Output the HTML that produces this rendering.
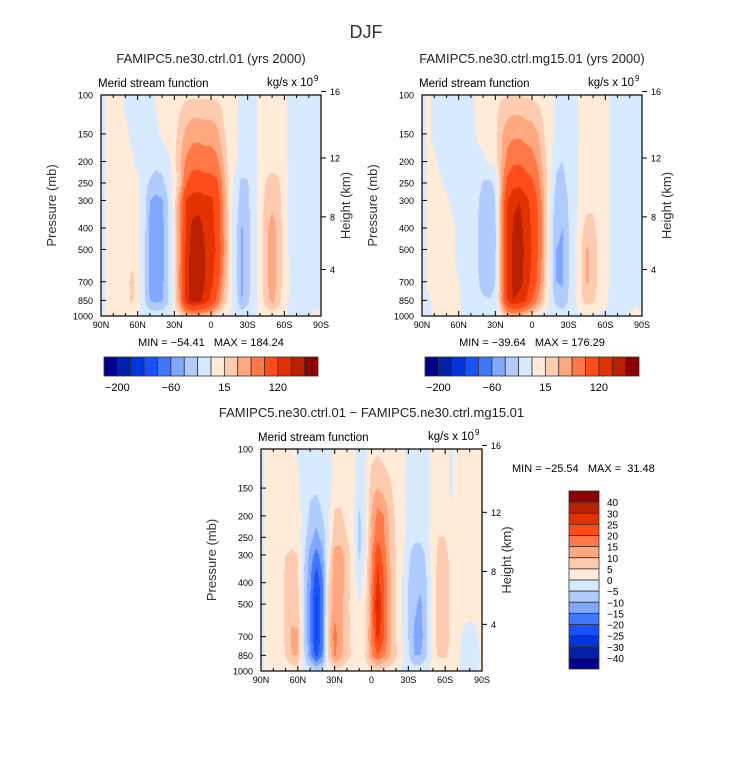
<!DOCTYPE html>
<html><head><meta charset="utf-8">
<style>
html,body{margin:0;padding:0;background:#fff;}
#wrap{position:relative;width:733px;height:764px;overflow:hidden;font-family:"Liberation Sans",sans-serif;}
canvas{position:absolute;}
svg{position:absolute;left:0;top:0;}
svg text{white-space:pre;}
</style></head>
<body>
<div id="wrap">
<canvas id="cA"></canvas>
<canvas id="cB"></canvas>
<canvas id="cC"></canvas>
<svg id="svg" width="733" height="764" xmlns="http://www.w3.org/2000/svg"></svg>
</div>
<script>
// ---------- data ----------
const lats = [90,85,80,75,70,65,60,55,50,45,40,35,30,25,20,15,10,5,0,-5,-10,-15,-20,-25,-30,-35,-40,-45,-50,-55,-60,-65,-70,-75,-80,-85,-90];
const pressures = [100,150,200,250,300,400,500,700,850,1000];
const levelsTop = [-200,-150,-100,-80,-60,-40,-20,0,15,30,50,80,120,150,180];
const levelsDiff = [-40,-30,-25,-20,-15,-10,-5,0,5,10,15,20,25,30,40];
const palette = ["#00008b","#0020a8","#0035dd","#1a50ff","#4077ff","#80a8ff","#b0ccff","#d8eaff","#ffebd8","#ffcbb0","#ffa880","#ff7845","#ff4d1a","#e33200","#b82000","#8b0000"];
const topBarLabels = ["-200","-60","15","120"];
const topBarLabelIdx = [1,5,9,13];
const diffBarLabels = ["40","30","25","20","15","10","5","0","-5","-10","-15","-20","-25","-30","-40"];
const xTickLabels = ["90N","60N","30N","0","30S","60S","90S"];
const xTickLats = [90,60,30,0,-30,-60,-90];
const pTicks = [100,150,200,250,300,400,500,700,850,1000];
const hTicks = [4,8,12,16];

const fieldA = [
[-8,5,5,5,-3,-5,-6,-6,-5,2,6,8,9,10,12,12,12,12,12,12,10,8,4,-5,-6,-5,4,6,6,5,3,-5,-6,-6,-6,-5,-8],
[-8,5,5,5,3,-3,-5,-6,-6,-4,4,8,10,22,35,42,42,40,40,35,18,6,3,-5,-6,-5,4,6,6,5,3,-5,-6,-6,-6,-5,-8],
[-8,5,5,5,4,2,-3,-8,-12,-15,-12,-5,12,30,55,65,68,62,62,55,30,8,3,-6,-7,-5,4,8,10,8,4,-4,-6,-6,-6,-5,-8],
[-8,5,5,5,5,3,2,-10,-22,-28,-25,-12,6,25,80,100,100,95,95,85,40,10,-8,-25,-22,-5,5,16,20,18,8,-4,-6,-6,-6,-5,-8],
[-8,5,5,5,5,4,2,-10,-40,-46,-42,-18,8,50,125,135,138,132,128,105,45,10,-10,-28,-24,-6,5,20,25,20,8,-4,-6,-6,-6,-5,-8],
[-8,5,5,5,5,6,4,-10,-45,-52,-48,-20,8,55,130,158,162,145,130,110,50,10,-10,-42,-30,-6,5,25,38,25,8,-4,-6,-6,-6,-5,-8],
[-8,5,5,5,5,8,5,-12,-46,-53,-48,-20,8,55,135,165,168,150,135,115,55,10,-10,-44,-30,-6,5,25,40,25,8,-4,-6,-6,-6,-5,-8],
[-8,5,5,5,6,20,10,-12,-45,-52,-46,-20,8,60,140,170,170,150,130,100,40,10,-10,-44,-30,-6,5,25,40,25,8,-3,-6,-6,-5,-4,-8],
[-8,5,5,5,5,18,8,-15,-40,-46,-42,-20,8,55,140,165,160,140,110,70,25,8,-8,-42,-25,-6,5,22,35,22,6,-3,-5,-5,-4,-3,-8],
[-5,3,3,3,3,4,3,-3,-6,-8,-6,-3,2,10,25,35,30,25,15,8,2,-2,-3,-8,-6,-2,2,4,6,4,2,-2,-3,-3,-2,2,3]
];
const fieldB = [
[-6,3,-4,-5,-5,-5,-5,-5,-3,3,6,8,10,13,14,14,14,13,12,10,8,5,-3,-5,-5,-4,3,5,5,5,4,-2,-5,-5,-5,-5,-6],
[-6,3,-3,-5,-6,-6,-6,-5,-4,2,5,8,12,28,40,45,45,40,38,30,15,5,-4,-6,-6,-5,3,5,6,5,4,-3,-5,-5,-5,-5,-6],
[-6,4,2,-3,-6,-7,-7,-6,-6,-5,-3,3,10,30,60,75,75,68,60,45,20,5,-18,-20,-10,-4,3,6,7,6,4,-3,-5,-5,-5,-5,-6],
[-6,4,4,2,-3,-5,-6,-6,-7,-10,-22,-24,-15,35,90,110,110,95,85,60,25,3,-22,-26,-14,-4,3,8,10,8,4,-3,-5,-5,-5,-5,-6],
[-6,4,4,3,2,-3,-5,-6,-8,-15,-30,-38,-20,40,120,145,150,130,110,75,30,-2,-32,-36,-18,-4,3,8,12,8,4,-3,-5,-5,-5,-5,-6],
[-6,4,4,3,3,2,-4,-6,-8,-18,-35,-40,-22,45,125,155,158,140,115,80,30,-6,-38,-40,-20,-4,10,22,18,10,4,-3,-5,-5,-5,-5,-6],
[-6,4,4,3,3,2,-3,-6,-8,-18,-36,-40,-22,45,128,158,160,145,118,80,30,-8,-40,-42,-22,-3,12,32,25,10,4,-3,-5,-5,-5,-5,-6],
[-6,4,4,3,3,2,0,-6,-8,-15,-32,-38,-20,45,130,160,160,140,110,70,25,-8,-40,-42,-20,-3,12,32,25,10,4,-3,-5,-5,-5,-5,-6],
[-6,-3,4,3,3,2,2,-4,-6,-8,-15,-18,-10,40,120,150,140,120,80,45,15,-6,-28,-35,-18,-4,12,22,18,8,2,-3,-5,-5,-4,-2,-6],
[-3,-2,2,2,2,2,2,-2,-3,-4,-5,-5,-3,8,25,30,25,15,5,-2,-3,-3,-6,-8,-5,-2,-2,-2,-2,-2,-2,-2,-2,-1,2,3,3]
];
const fieldC = [
[-2,2,2,2,2,2,-1,-3,-3,-3,-3,-2,2,2,2,1,-2,-1,3,4,3,2,2,2,-2,-3,-3,-2,2,2,2,-1,2,2,2,2,2],
[-2,2,2,2,2,2,1,-3,-4,-4,-3,-2,2,3,3,1,-3,-1,8,10,8,6,3,2,-2,-3,-3,-2,2,2,2,-1,2,2,2,2,2],
[-2,2,2,2,2,2,2,-2,-6,-8,-5,-1,6,6,3,1,-6,-1,10,17,15,8,4,2,-2,-3,-3,-2,2,2,2,1,2,2,2,2,2],
[-2,2,2,2,3,3,2,-3,-8,-12,-8,-1,8,8,5,2,-7,-1,12,19,16,9,4,2,-3,-4,-4,-3,4,5,5,2,2,2,2,2,2],
[-2,2,2,2,5,6,5,-4,-12,-17,-12,2,12,12,8,2,-6,0,14,24,18,10,5,1,-4,-7,-7,-4,3,6,6,4,2,2,2,2,2],
[-2,2,2,2,6,7,6,-5,-14,-24,-16,5,13,12,8,2,-2,2,15,27,20,11,5,0,-5,-9,-9,-5,3,7,7,4,2,2,2,2,2],
[-2,2,2,2,6,8,7,-5,-15,-26,-17,6,13,12,7,2,0,3,16,31,21,11,5,0,-5,-9,-11,-6,3,7,7,4,2,2,2,2,2],
[-2,2,2,2,6,11,11,-5,-15,-26,-17,8,17,12,7,3,1,4,16,27,20,11,5,0,-5,-11,-12,-6,3,7,7,4,2,-1,-2,-1,2],
[-2,2,2,2,5,10,10,-4,-13,-22,-15,6,16,11,7,4,2,5,14,20,16,11,6,1,-4,-10,-10,-5,3,6,6,3,1,-2,-2,-2,1],
[-1,1,1,1,1,2,2,-1,-3,-5,-3,1,3,3,2,1,1,2,3,4,3,2,1,-1,-2,-2,-2,-1,1,1,1,1,1,-1,-1,-1,1]
];

// ---------- layout ----------
const panels = [
 {id:"cA", name:"ctrl", field:fieldA, levels:levelsTop, x0:101,x1:321,y0:95,y1:316,
  title:"FAMIPC5.ne30.ctrl.01 (yrs 2000)", minmax:"MIN = \u221254.41   MAX = 184.24"},
 {id:"cB", name:"mg15", field:fieldB, levels:levelsTop, x0:422,x1:642,y0:95,y1:316,
  title:"FAMIPC5.ne30.ctrl.mg15.01 (yrs 2000)", minmax:"MIN = \u221239.64   MAX = 176.29"},
 {id:"cC", name:"difference", field:fieldC, levels:levelsDiff, x0:261,x1:482,y0:449,y1:671,
  title:"FAMIPC5.ne30.ctrl.01 \u2212 FAMIPC5.ne30.ctrl.mg15.01", minmax:null}
];

function xScale(p,lat){return p.x0+(90-lat)/180*(p.x1-p.x0);}
function yScale(p,pr){return p.y0+Math.log10(pr/100)*(p.y1-p.y0);}
function hToP(h){return 1013.25*Math.pow(1-2.25577e-5*h*1000,5.25588);}
function colorFor(v,levels){let i=0;while(i<levels.length&&v>=levels[i])i++;return palette[i];}
function hex2rgb(h){return [parseInt(h.substr(1,2),16),parseInt(h.substr(3,2),16),parseInt(h.substr(5,2),16)];}

function sample(field,lat,pr){
  let fx=(90-lat)/5; if(fx<0)fx=0; if(fx>lats.length-1)fx=lats.length-1;
  const lp=Math.log10(pr);
  let k=0; while(k<pressures.length-2&&Math.log10(pressures[k+1])<lp)k++;
  const a=Math.log10(pressures[k]),b=Math.log10(pressures[k+1]);
  let ty=(lp-a)/(b-a); ty=Math.max(0,Math.min(1,ty));
  const i=Math.min(Math.floor(fx),lats.length-2), tx=fx-i;
  const r0=field[k], r1=field[k+1];
  const v0=r0[i]*(1-tx)+r0[i+1]*tx, v1=r1[i]*(1-tx)+r1[i+1]*tx;
  return v0*(1-ty)+v1*ty;
}

const svg=document.getElementById('svg');
const NS="http://www.w3.org/2000/svg";
function mk(tag,attrs,parent){const e=document.createElementNS(NS,tag);for(const k in attrs)e.setAttribute(k,attrs[k]);(parent||svg).appendChild(e);return e;}
function txt(s,x,y,size,anchor,parent){const t=mk('text',{x:x,y:y,'font-size':size,'text-anchor':anchor||'start',fill:'#000','font-family':'"Liberation Sans",sans-serif'},parent);t.textContent=s;return t;}

panels.forEach(p=>{
  const cv=document.getElementById(p.id);
  const W=p.x1-p.x0,H=p.y1-p.y0;
  cv.width=W;cv.height=H;cv.style.left=p.x0+'px';cv.style.top=p.y0+'px';
  const ctx=cv.getContext('2d');const img=ctx.createImageData(W,H);
  for(let py=0;py<H;py++){
    const pr=100*Math.pow(10,(py+0.5)/H);
    for(let px=0;px<W;px++){
      const lat=90-(px+0.5)/W*180;
      const c=hex2rgb(colorFor(sample(p.field,lat,pr),p.levels));
      const o=(py*W+px)*4;img.data[o]=c[0];img.data[o+1]=c[1];img.data[o+2]=c[2];img.data[o+3]=255;
    }
  }
  ctx.putImageData(img,0,0);

  const g=mk('g',{});
  
  
  mk('rect',{x:p.x0,y:p.y0,width:W,height:H,fill:'none',stroke:'#000','stroke-width':1.2},g);
  for(let lat=90;lat>=-90;lat-=10){
    const x=xScale(p,lat);const major=(lat%30===0);const L=major?5:3;
    mk('line',{x1:x,y1:p.y1,x2:x,y2:p.y1-L,stroke:'#000'},g);
    mk('line',{x1:x,y1:p.y0,x2:x,y2:p.y0+L,stroke:'#000'},g);
  }
  xTickLats.forEach((lat,i)=>{
    const t=txt(xTickLabels[i],xScale(p,lat),p.y1+12,9,'middle',g);
    
    
  });
  pTicks.forEach(pr=>{
    const y=yScale(p,pr);
    mk('line',{x1:p.x0,y1:y,x2:p.x0+5,y2:y,stroke:'#000'},g);
    const t=txt(String(pr),p.x0-8,y+3.5,9,'end',g);
    
    
  });
  hTicks.forEach(h=>{
    const y=yScale(p,hToP(h));
    mk('line',{x1:p.x1,y1:y,x2:p.x1+5,y2:y,stroke:'#000'},g);
    const t=txt(String(h),p.x1+9,y+3.5,9,'start',g);
    
    
  });
  const yt=txt('Pressure (mb)',0,0,13,'middle',g);
  yt.setAttribute('transform','translate('+(p.x0-45)+','+((p.y0+p.y1)/2)+') rotate(-90)');
  yt.setAttribute('fill','#333');
  
  
  const ht=txt('Height (km)',0,0,13,'middle',g);
  ht.setAttribute('transform','translate('+(p.x1+29)+','+((p.y0+p.y1)/2)+') rotate(-90)');
  ht.setAttribute('fill','#333');
  
  
  const tt=txt(p.title,(p.x0+p.x1)/2,p.y0-32,13,'middle',g);
  tt.setAttribute('fill','#222');
  
  
  const lt=txt('Merid stream function',p.x0-3,p.y0-8,11.5,'start',g);
  
  
  const rt=txt('kg/s x 10',p.x1-8,p.y0-9,11.5,'end',g);
  
  
  txt('9',p.x1-7,p.y0-14,8,'start',g);
  if(p.minmax){
    const m=txt(p.minmax,(p.x0+p.x1)/2,p.y1+30,11,'middle',g);
    
    
    const bx0=p.x0+3,bx1=p.x1-3,by=357,bh=19,bw=(bx1-bx0)/palette.length;
    const cb=mk('g',{},g);
    
    
    palette.forEach((c,i)=>{
      const r=mk('rect',{x:bx0+i*bw,y:by,width:bw,height:bh,fill:c,stroke:'#333','stroke-width':0.8},cb);
      
      
    });
    topBarLabels.forEach((s,i)=>{
      const t=txt(s.replace('-','\u2212'),bx0+topBarLabelIdx[i]*bw,by+bh+15,11,'middle',cb);
      
      
    });
  }
});

const mm=txt('MIN = \u221225.54   MAX =  31.48',512,472,11,'start');


const vb=mk('g',{});


const vbx=569,vby0=491,vbh=(669-491)/palette.length;
palette.slice().reverse().forEach((c,i)=>{
  const r=mk('rect',{x:vbx,y:vby0+i*vbh,width:30,height:vbh,fill:c,stroke:'#333','stroke-width':0.8},vb);
  
  
});
diffBarLabels.forEach((s,i)=>{
  const t=txt(s.replace('-','\u2212'),607,vby0+(i+1)*vbh+4,10,'start',vb);
  
  
});

const dj=txt('DJF',366,38,18,'middle');
dj.setAttribute('fill','#333');


</script>
</body></html>
